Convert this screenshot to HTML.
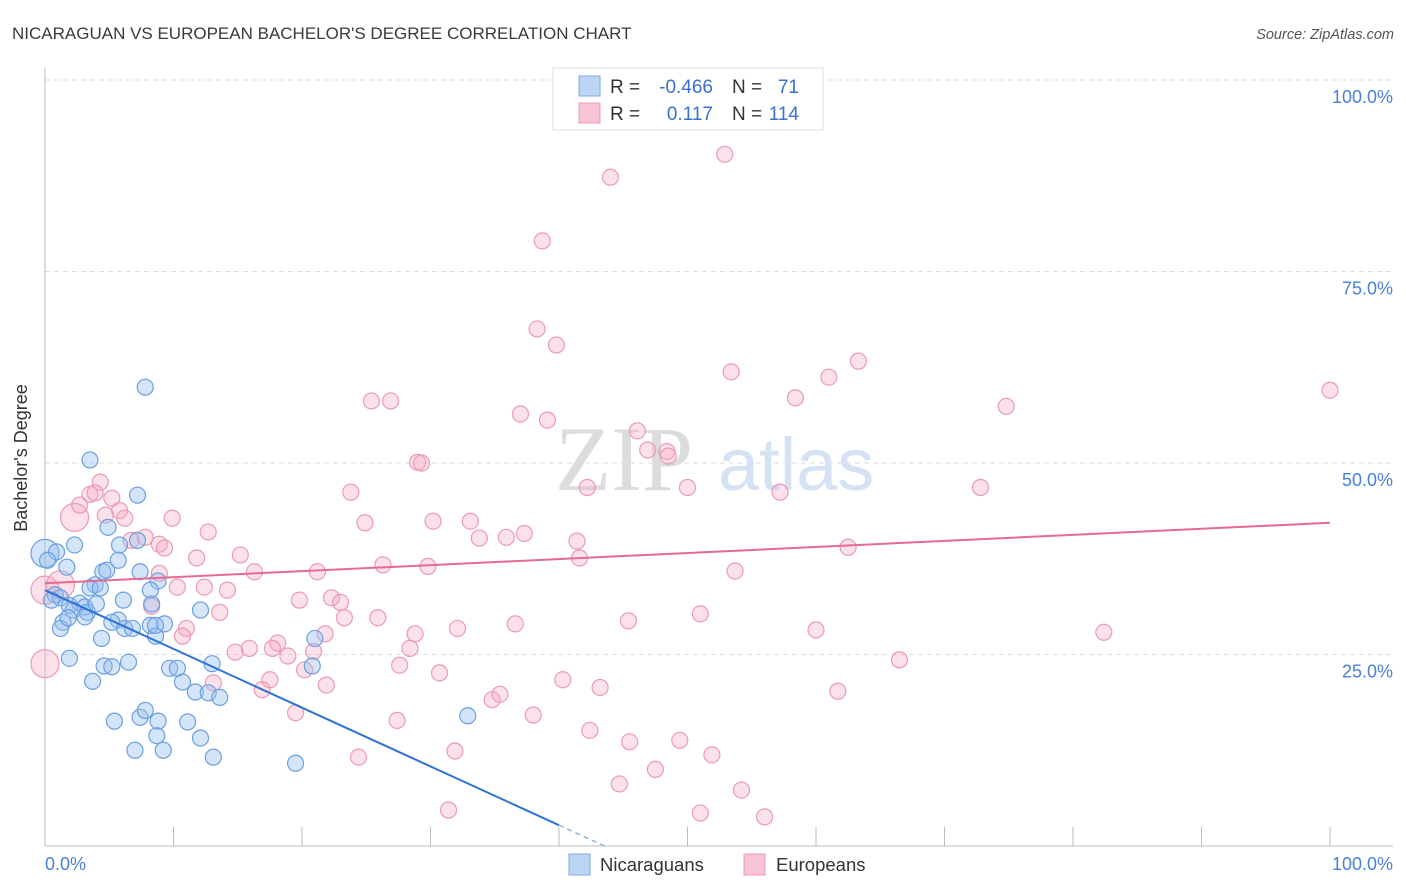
<!DOCTYPE html>
<html><head><meta charset="utf-8"><style>
body{margin:0;background:#fff;font-family:"Liberation Sans",sans-serif}
svg{display:block}
</style></head><body>
<svg id="chart" width="1406" height="892" xmlns="http://www.w3.org/2000/svg">
<text x="12" y="39" font-size="17" fill="#3a3a3a">NICARAGUAN VS EUROPEAN BACHELOR'S DEGREE CORRELATION CHART</text>
<text x="1394" y="39" font-size="14.5" fill="#555" font-style="italic" text-anchor="end">Source: ZipAtlas.com</text>
<g id="grid"></g>
<g>
<text x="555" y="490" font-family="Liberation Serif,serif" font-size="92" fill="#dcdcdc">ZIP</text>
<text x="718" y="490" font-size="74" fill="#d4e2f4">atlas</text>
</g>
<g id="pts"></g>
<g id="lines"></g>
<text x="27" y="458" font-size="18" fill="#333" transform="rotate(-90 27 458)" text-anchor="middle">Bachelor's Degree</text>
<text x="45" y="870" font-size="18" fill="#4a80d8">0.0%</text>
<text x="1393" y="870" font-size="18" fill="#4a80d8" text-anchor="end">100.0%</text>
<g>
<rect x="553" y="68" width="270" height="62" fill="#fff" stroke="#ddd"/>
<rect x="579" y="76" width="21" height="20" fill="#bcd5f5" stroke="#7fa9e6"/>
<rect x="579" y="103" width="21" height="20" fill="#f8c4d4" stroke="#eb9ab4"/>
<text x="610" y="93" font-size="19" fill="#333">R = </text>
<text x="713" y="93" font-size="19" fill="#3a70d0" text-anchor="end">-0.466</text>
<text x="732" y="93" font-size="19" fill="#333">N = </text>
<text x="799" y="93" font-size="19" fill="#3a70d0" text-anchor="end">71</text>
<text x="610" y="120" font-size="19" fill="#333">R = </text>
<text x="713" y="120" font-size="19" fill="#3a70d0" text-anchor="end">0.117</text>
<text x="732" y="120" font-size="19" fill="#333">N = </text>
<text x="799" y="120" font-size="19" fill="#3a70d0" text-anchor="end">114</text>
</g>
<g>
<rect x="569" y="854" width="21" height="21" fill="#bcd5f5" stroke="#7fa9e6"/>
<text x="600" y="871" font-size="18.5" fill="#333">Nicaraguans</text>
<rect x="744" y="854" width="21" height="21" fill="#f8c4d4" stroke="#eb9ab4"/>
<text x="776" y="871" font-size="18.5" fill="#333">Europeans</text>
</g>
</svg>
<script>
const yTicks=[25,50,75,100];
const yTickLabels=["25.0%","50.0%","75.0%","100.0%"];
const xTicks=[0,10,20,30,40,50,60,70,80,90,100];
const blueX=[0,0.9,0.2,2.3,1.7,0.8,1.2,0.5,1.9,2.7,3.1,2.2,3.3,4.0,1.4,3.1,1.2,1.8,3.5,7.2,4.9,5.8,5.7,4.5,4.8,3.9,3.5,4.3,6.1,7.4,8.8,8.2,8.3,5.7,5.2,6.2,6.8,8.2,8.6,9.3,4.4,12.1,7.8,7.2,1.9,3.7,4.6,5.2,6.5,9.7,10.3,10.7,11.7,12.7,13.0,13.6,5.4,7.4,7.8,8.8,11.1,8.7,12.1,7.0,9.2,13.1,19.5,21.0,20.8,32.9,8.6];
const blueY=[38.2,38.4,37.3,39.3,36.4,32.8,32.4,32.1,31.4,31.7,31.2,30.8,30.5,31.6,29.2,29.9,28.4,29.8,50.4,45.8,41.6,39.3,37.3,35.8,36.0,34.1,33.7,33.7,32.1,35.8,34.6,33.4,31.6,29.5,29.2,28.4,28.4,28.8,27.4,29.0,27.1,30.8,59.9,39.9,24.5,21.5,23.5,23.4,24.0,23.2,23.2,21.4,20.1,20.0,23.8,19.4,16.3,16.8,17.7,16.3,16.2,14.4,14.1,12.5,12.5,11.6,10.8,27.1,23.5,17.0,28.8];
const pinkX=[0,0,1.2,2.3,2.7,3.5,4.3,3.9,5.2,5.8,6.2,4.7,6.7,7.8,8.9,9.3,9.9,12.7,15.2,11.8,16.3,21.2,8.9,10.3,12.4,14.2,19.8,22.3,23.0,8.3,13.6,23.3,25.9,11.0,10.7,14.8,15.9,18.1,17.7,18.9,20.9,20.2,17.5,16.9,21.9,13.1,19.5,24.4,27.4,27.6,28.4,28.8,30.7,32.1,29.0,29.8,30.2,33.1,33.8,35.9,37.3,36.6,38.0,34.8,35.4,31.9,31.4,40.3,42.4,43.2,44.7,45.5,47.5,49.4,51.0,51.9,54.2,56.0,52.9,44.0,38.7,38.3,39.8,53.4,25.4,26.9,37.0,39.1,46.1,48.4,48.5,42.2,50.0,29.3,23.8,24.9,26.3,41.4,41.6,45.4,51.0,53.7,57.2,58.4,61.0,63.3,62.5,60.0,61.7,66.5,72.8,74.8,82.4,100,46.9,21.8];
const pinkY=[23.8,33.4,34.1,42.9,44.5,45.9,47.5,46.1,45.4,43.8,42.8,43.2,39.9,40.3,39.4,38.9,42.8,41.0,38.0,37.6,35.8,35.8,35.6,33.8,33.8,33.4,32.1,32.4,31.8,31.3,30.5,29.8,29.8,28.4,27.4,25.3,25.8,26.5,25.8,24.8,25.4,23.0,21.7,20.4,21.0,21.3,17.4,11.6,16.4,23.6,25.8,27.7,22.6,28.4,50.1,36.5,42.4,42.4,40.2,40.3,40.8,29.0,17.1,19.1,19.8,12.4,4.7,21.7,15.1,20.7,8.1,13.6,10.0,13.8,4.3,11.9,7.3,3.8,90.3,87.3,79.0,67.5,65.4,61.9,58.1,58.1,56.4,55.6,54.2,51.5,50.9,46.8,46.8,50.0,46.2,42.2,36.7,39.8,37.6,29.4,30.3,35.9,46.2,58.5,61.2,63.3,39.0,28.2,20.2,24.3,46.8,57.4,27.9,59.5,51.7,27.7];
const bigBlue=[0];
const bigPink=[0,1,2,3];
const blueFit=[33.4,-0.767];
const pinkFit=[34.3,0.079];
const NS="http://www.w3.org/2000/svg";
const sx=v=>45+v*12.85, sy=v=>846-v*7.66;
function mk(tag,attrs,parent){const e=document.createElementNS(NS,tag);for(const k in attrs)e.setAttribute(k,attrs[k]);parent.appendChild(e);return e;}
const grid=document.getElementById('grid');
yTicks.forEach((t,i)=>{
 const l=mk('line',{x1:45,x2:1393,y1:sy(t),y2:sy(t),stroke:'#ddd','stroke-dasharray':'5,4'},grid);
 
 
 const tx=mk('text',{x:1393,y:sy(t)+23,'font-size':18,fill:'#4a80d8','text-anchor':'end'},grid);
 tx.textContent=yTickLabels[i];
 
 
});
const ax=mk('line',{x1:45,x2:1393,y1:846,y2:846,stroke:'#bbb'},grid);


const ay=mk('line',{x1:45,x2:45,y1:68,y2:846,stroke:'#bbb'},grid);


xTicks.forEach(t=>{
 const l=mk('line',{x1:sx(t),x2:sx(t),y1:827,y2:846,stroke:'#bbb'},grid);
 
 
});
const pts=document.getElementById('pts');
pinkX.forEach((x,i)=>{
 const c=mk('circle',{cx:sx(x),cy:sy(pinkY[i]),r:bigPink.includes(i)?14:8,fill:'rgba(245,170,196,0.35)',stroke:'#eb9ab4','stroke-width':1.2},pts);
 
 
});
blueX.forEach((x,i)=>{
 const c=mk('circle',{cx:sx(x),cy:sy(blueY[i]),r:bigBlue.includes(i)?14:8,fill:'rgba(150,190,240,0.4)',stroke:'#6a9fe0','stroke-width':1.2},pts);
 
 
});
const lines=document.getElementById('lines');
const bEnd=40, bZero=-blueFit[0]/blueFit[1];
const bl=mk('line',{x1:sx(0),y1:sy(blueFit[0]),x2:sx(bEnd),y2:sy(blueFit[0]+blueFit[1]*bEnd),stroke:'#2f72d8','stroke-width':2},lines);


const bd=mk('line',{x1:sx(bEnd),y1:sy(blueFit[0]+blueFit[1]*bEnd),x2:sx(bZero),y2:sy(0),stroke:'#8fb2e8','stroke-width':1.5,'stroke-dasharray':'5,4'},lines);


const pl=mk('line',{x1:sx(0),y1:sy(pinkFit[0]),x2:sx(100),y2:sy(pinkFit[0]+pinkFit[1]*100),stroke:'#e56a94','stroke-width':2},lines);


</script>
</body></html>
